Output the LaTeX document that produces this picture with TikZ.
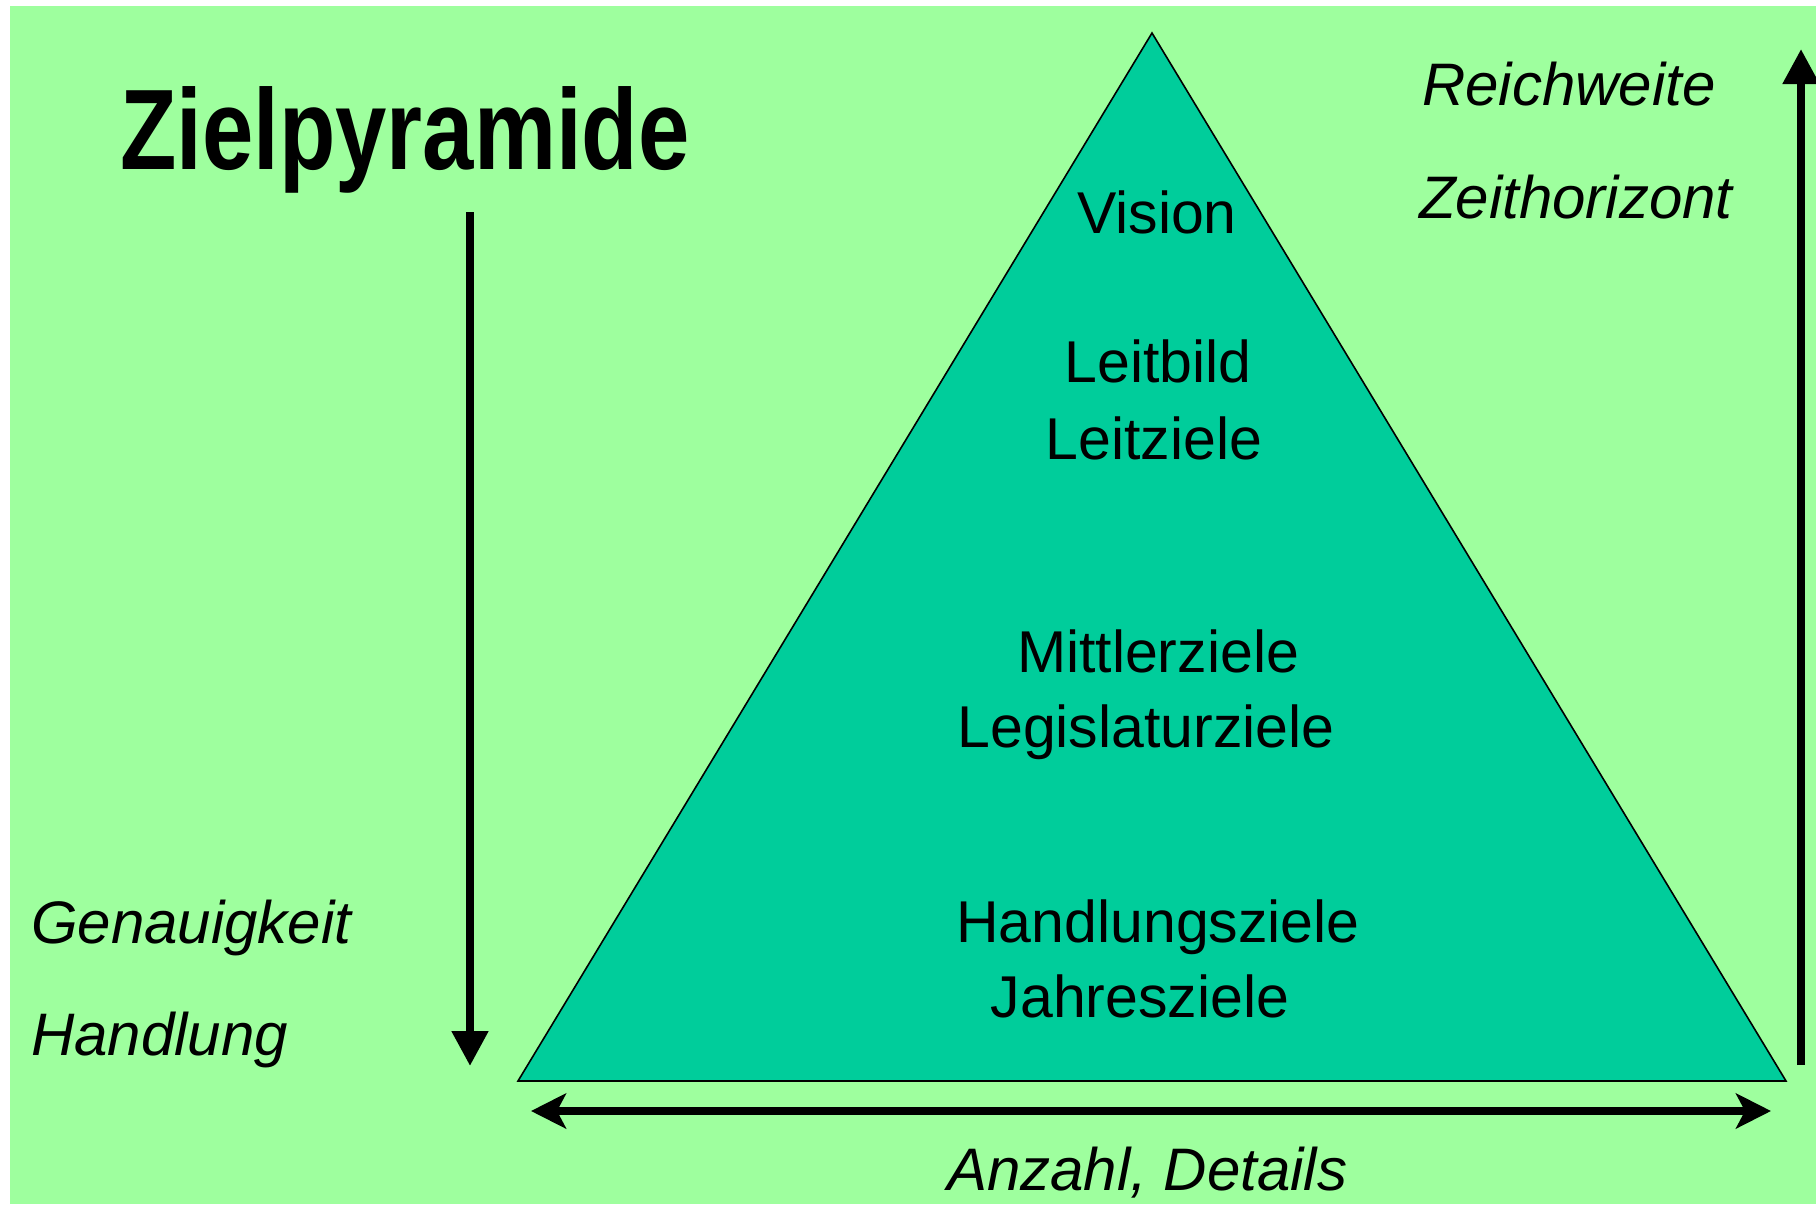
\documentclass[tikz,border=0pt]{standalone}
\usepackage{fontspec}
\usepackage{graphicx}
\setmainfont{Liberation Sans}
\usetikzlibrary{arrows.meta}
\definecolor{bggreen}{RGB}{158,255,158}
\definecolor{pyr}{RGB}{0,205,155}
\begin{document}
\begin{tikzpicture}[x=1pt,y=-1pt,
  lbl/.style={inner sep=0pt, anchor=base, font=\fontsize{59}{59}\selectfont},
  ital/.style={inner sep=0pt, anchor=base west, font=\fontsize{60}{60}\selectfont\itshape},
  thickarrow/.style={line width=8pt},
  vtip/.style={-{Triangle[length=35pt,width=35pt]}},
  htip/.style={{Stealth[length=35pt,width=35pt,inset=9pt]}-{Stealth[length=35pt,width=35pt,inset=9pt]}}]
\useasboundingbox (0,0) rectangle (1816,1205);
\fill[white] (0,0) rectangle (1816,1205);
\fill[bggreen] (10,6) rectangle (1816,1204);
% pyramid
\coordinate (apex) at (1152,33);
\coordinate (bl) at (518,1081);
\coordinate (br) at (1786,1081);
\draw[fill=pyr, line width=1.6pt, line join=miter] (apex) -- (br) -- (bl) -- cycle;
% title
\node[anchor=base west, inner sep=0pt] (title) at (120,169)
  {\fontsize{114.5}{114.5}\selectfont\bfseries\scalebox{0.806}[1]{Zielpyramide}};
% pyramid labels
\node[lbl] (vision) at (1157,233) {Vision};
\node[lbl] (leitbild) at (1158,382) {Leitbild};
\node[lbl] (leitziele) at (1154,459) {Leitziele};
\node[lbl] (mittler) at (1158,672) {Mittlerziele};
\node[lbl] (legis) at (1146,747) {Legislaturziele};
\node[lbl] (handlz) at (1158,942) {Handlungsziele};
\node[lbl] (jahres) at (1140,1017) {Jahresziele};
% side labels
\node[ital] (reich) at (1422,105) {Reichweite};
\node[ital] (zeit) at (1419,218) {Zeithorizont};
\node[ital] (genau) at (31,943) {Genauigkeit};
\node[ital] (handl) at (31,1055) {Handlung};
\node[ital] (anzahl) at (947,1190) {Anzahl, Details};
% arrows
\coordinate (dtop) at (470,212);
\coordinate (dbot) at (470,1066);
\draw[thickarrow, vtip] (dtop) -- (dbot);
\coordinate (ubot) at (1801,1065);
\coordinate (utop) at (1801,49);
\draw[thickarrow, vtip] (ubot) -- (utop);
\coordinate (hl) at (531,1111);
\coordinate (hr) at (1771,1111);
\draw[thickarrow, htip] (hl) -- (hr);
\end{tikzpicture}
\end{document}
